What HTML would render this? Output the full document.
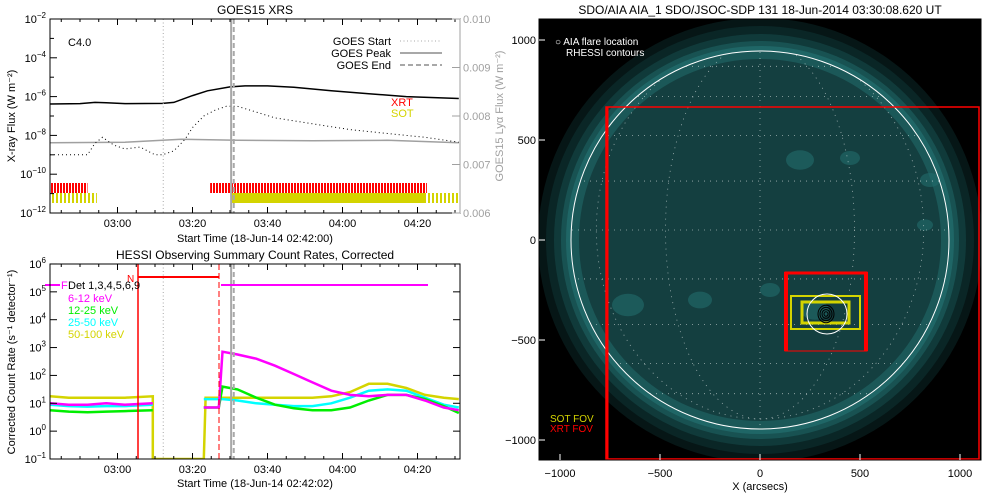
<!DOCTYPE html>
<html><head><meta charset="utf-8"><style>
html,body{margin:0;padding:0;background:#fff;}
svg{display:block;font-family:"Liberation Sans",sans-serif;}
</style></head><body>
<svg id="s" width="1000" height="500" viewBox="0 0 1000 500">
<defs>
<pattern id="redstripe" width="3" height="10" patternUnits="userSpaceOnUse"><rect width="2" height="10" fill="#ff0000"/></pattern>
<pattern id="yelstripe" width="4" height="10" patternUnits="userSpaceOnUse"><rect width="2" height="10" fill="#d4d400"/></pattern>
<clipPath id="sunclip"><circle cx="760" cy="240" r="189"/></clipPath>
<clipPath id="c1"><rect x="50" y="19" width="410" height="194"/></clipPath>
<clipPath id="c2"><rect x="50" y="264" width="410" height="195"/></clipPath>
<clipPath id="imgclip"><rect x="539" y="19" width="442" height="441"/></clipPath>
</defs>
<g id="topPanel"></g>
<g id="botPanel"></g>
<g id="imgPanel"></g>
</svg>
<script>
// ---- GOES data (minutes after 02:42, log10 flux) ----
const goesLongT=[0,8,12,15,20,30,33,38,42,48,52,58,65,75,85,95,109];
const goesLongV=[-6.38,-6.36,-6.3,-6.32,-6.36,-6.35,-6.3,-5.95,-5.7,-5.5,-5.45,-5.45,-5.52,-5.7,-5.85,-6.0,-6.1];
const goesShortT=[0,10,12,14,17,20,24,28,30,33,36,38,41,44,47,50,55,60,70,80,90,100,109];
const goesShortV=[-9.0,-9.0,-8.4,-8.1,-8.5,-8.7,-8.6,-9.0,-9.0,-8.8,-8.2,-7.6,-7.0,-6.7,-6.5,-6.5,-6.8,-7.1,-7.4,-7.7,-7.9,-8.1,-8.35];
const lyaT=[0,20,35,50,70,90,109];
const lyaV=[0.00745,0.00746,0.00752,0.0075,0.00749,0.0075,0.00745];
const goesEvents=[30.2,48.3,49.0];
const xrtSpans=[[0,10],[42.7,100.5]];
const sotStripes=[[0,12.5],[100,109]];
const sotSolid=[[48.5,100]];
const timeTicks=[18,38,58,78,98];
const timeLabels=["03:00","03:20","03:40","04:00","04:20"];
const leftTickExp=[-2,-4,-6,-8,-10,-12];
const rightTicks=[0.010,0.009,0.008,0.007,0.006];
// ---- HESSI data ----
const hT=[0,5,10,15,20,27.4,null,41,41.5,45,46,50,55,60,65,70,75,80,85,90,95,100,105,109];
const h612=[1.0,0.95,0.95,1.0,0.95,1.0,null,0.85,0.85,0.85,2.85,2.75,2.6,2.35,2.05,1.75,1.45,1.3,1.25,1.3,1.3,1.1,0.85,0.75];
const h1225=[0.75,0.7,0.68,0.7,0.72,0.75,null,0.85,0.85,0.85,1.6,1.5,1.2,0.95,0.82,0.75,0.75,0.85,1.1,1.3,1.3,1.15,0.9,0.65];
const h2550=[0.95,0.9,0.88,0.9,0.9,0.95,null,1.15,1.15,1.15,1.15,1.1,1.0,0.95,0.9,0.9,1.0,1.2,1.45,1.5,1.45,1.2,0.95,0.85];
const h50100=[1.25,1.2,1.2,1.2,1.2,1.25,-1,-1,1.2,1.2,1.2,1.2,1.2,1.2,1.2,1.2,1.25,1.4,1.7,1.7,1.55,1.3,1.2,1.15];
const hEvents=[30.2,48.3,49.0];
const hTickExp=[6,5,4,3,2,1,0,-1];

const NS="http://www.w3.org/2000/svg";
function mk(parent,tag,attrs,text){const e=document.createElementNS(NS,tag);for(const k in attrs)e.setAttribute(k,attrs[k]);if(text!==undefined)e.textContent=text;parent.appendChild(e);return e;}
const X=t=>50+t*3.75;
const Y1=v=>213-(v+12)*19.4;
const YR=v=>213-(v-0.006)/0.004*194;
const Y2=v=>459-(v+1)*27.86;
function supLabel(g,x,y,base,exp,anchor,fill){const t=mk(g,'text',{x:x,y:y,'font-size':11,'text-anchor':anchor||'end',fill:fill||'#000'});
 const a=document.createElementNS(NS,'tspan');a.textContent=base;t.appendChild(a);
 const b=document.createElementNS(NS,'tspan');b.setAttribute('dy',-5);b.setAttribute('font-size',8);b.textContent=exp;t.appendChild(b);return t;}
function path(arrT,arrV,fx,fy){let d='',pen=false;arrT.forEach((t,i)=>{if(t===null||arrV[i]===null){pen=false;return;}d+=(pen?'L':'M')+fx(t).toFixed(1)+' '+fy(arrV[i]).toFixed(1);pen=true;});return d;}
const dashes=['1 2.5',null,'5 3'];const widths=[1,2,2];
let e;

// ===== TOP PANEL =====
const topG=document.getElementById('topPanel');
e=mk(topG,'text',{x:255,y:14,'font-size':12,'text-anchor':'middle'},'GOES15 XRS');

const bars=mk(topG,'g',{});

xrtSpans.forEach(s=>{const r=mk(bars,'rect',{x:X(s[0]),y:183,width:X(s[1])-X(s[0]),height:10,fill:'url(#redstripe)'});
 });
sotStripes.forEach(s=>{const r=mk(bars,'rect',{x:X(s[0]),y:193,width:X(s[1])-X(s[0]),height:10,fill:'url(#yelstripe)'});
 });
sotSolid.forEach(s=>{const r=mk(bars,'rect',{x:X(s[0]),y:193,width:X(s[1])-X(s[0]),height:10,fill:'#d4d400'});
 });
const g1=mk(topG,'g',{'clip-path':'url(#c1)'});
e=mk(g1,'path',{d:path(lyaT,lyaV,X,YR),stroke:'#a0a0a0','stroke-width':1.5,fill:'none'});

e=mk(g1,'path',{d:path(goesShortT,goesShortV,X,Y1),stroke:'#000','stroke-width':1,'stroke-dasharray':'1 3',fill:'none'});

e=mk(g1,'path',{d:path(goesLongT,goesLongV,X,Y1),stroke:'#000','stroke-width':1.5,fill:'none'});

goesEvents.forEach((t,i)=>{const l=mk(topG,'line',{x1:X(t),x2:X(t),y1:19,y2:213,stroke:'#a8a8a8','stroke-width':widths[i]});if(dashes[i])l.setAttribute('stroke-dasharray',dashes[i]);
 });
e=mk(topG,'rect',{x:50,y:19,width:410,height:194,fill:'none',stroke:'#000','stroke-width':1});

mk(topG,'line',{x1:460,x2:460,y1:19,y2:213,stroke:'#a0a0a0'});
for(let t=0;t<=105;t+=5){const tt=t+3;const L=(tt-18)%20===0?6:3;mk(topG,'line',{x1:X(tt),x2:X(tt),y1:213,y2:213-L,stroke:'#000'});mk(topG,'line',{x1:X(tt),x2:X(tt),y1:19,y2:19+L,stroke:'#000'});}
timeTicks.forEach((t,i)=>{const l=mk(topG,'text',{x:X(t),y:227,'font-size':11,'text-anchor':'middle'},timeLabels[i]);
 });
for(let ex=-12;ex<=-2;ex++){const L=ex%2===0?7:4;mk(topG,'line',{x1:50,x2:50+L,y1:Y1(ex),y2:Y1(ex),stroke:'#000'});}
leftTickExp.forEach(ex=>{const l=supLabel(topG,46,Y1(ex)+4,'10',String(ex).replace('-','\u2212'));
 });
rightTicks.forEach(v=>{mk(topG,'line',{x1:452,x2:460,y1:YR(v),y2:YR(v),stroke:'#a0a0a0'});
 const l=mk(topG,'text',{x:463,y:YR(v)+4,'font-size':11,fill:'#a0a0a0'},v.toFixed(3));
 });
e=mk(topG,'text',{x:255,y:242,'font-size':11,'text-anchor':'middle'},'Start Time (18-Jun-14 02:42:00)');

e=mk(topG,'text',{x:0,y:0,'font-size':11,'text-anchor':'middle',transform:'translate(15,116) rotate(-90)'},'X-ray Flux (W m⁻²)');

e=mk(topG,'text',{x:0,y:0,'font-size':11,'text-anchor':'middle',fill:'#a0a0a0',transform:'translate(503,116) rotate(-90)'},'GOES15 Lyα Flux (W m⁻²)');

e=mk(topG,'text',{x:68,y:46,'font-size':11},'C4.0');

const leg=[['GOES Start','1 2.5',1],['GOES Peak',null,2],['GOES End','5 3',2]];
leg.forEach((L,i)=>{const y=41+i*12;const t=mk(topG,'text',{x:391,y:y+4,'font-size':11,'text-anchor':'end'},L[0]);
 
 const l=mk(topG,'line',{x1:400,x2:442,y1:y,y2:y,stroke:'#a8a8a8','stroke-width':L[2]});if(L[1])l.setAttribute('stroke-dasharray',L[1]);});
e=mk(topG,'text',{x:391,y:106,'font-size':11,fill:'#ff0000'},'XRT');
e=mk(topG,'text',{x:391,y:117,'font-size':11,fill:'#d4d400'},'SOT');

// ===== BOTTOM PANEL =====
const botG=document.getElementById('botPanel');
e=mk(botG,'text',{x:255,y:259,'font-size':12,'text-anchor':'middle'},'HESSI Observing Summary Count Rates, Corrected');

const g2=mk(botG,'g',{'clip-path':'url(#c2)'});
const series=[[h50100,'#d4d400','50-100-kev-line'],[h2550,'#00ffff','25-50-kev-line'],[h1225,'#00ee00','12-25-kev-line'],[h612,'#ff00ff','6-12-kev-line']];
series.forEach(s=>{let d='',pen=false;
 hT.forEach((t,i)=>{const v=s[0][i];
  if(v===null){pen=false;return;}
  const tt=(t===null)?hT[i-1]:t;
  d+=(pen?'L':'M')+X(tt).toFixed(1)+' '+Y2(v).toFixed(1);pen=true;});
 const p=mk(g2,'path',{d:d,stroke:s[1],'stroke-width':2.5,fill:'none'});
 });
hEvents.forEach((t,i)=>{const l=mk(botG,'line',{x1:X(t),x2:X(t),y1:264,y2:459,stroke:'#a8a8a8','stroke-width':widths[i]});if(dashes[i])l.setAttribute('stroke-dasharray',dashes[i]);
 });
e=mk(botG,'line',{x1:138,x2:138,y1:264,y2:459,stroke:'#ff0000','stroke-width':1.5});
e=mk(botG,'line',{x1:219,x2:219,y1:264,y2:459,stroke:'#ff0000','stroke-width':1,'stroke-dasharray':'6 3'});
e=mk(botG,'line',{x1:138,x2:219,y1:277,y2:277,stroke:'#ff0000','stroke-width':2});
e=mk(botG,'text',{x:127,y:282,'font-size':10,fill:'#ff0000'},'N');
e=mk(botG,'line',{x1:45,x2:60,y1:285,y2:285,stroke:'#ff00ff','stroke-width':2});
e=mk(botG,'line',{x1:221,x2:428,y1:285,y2:285,stroke:'#ff00ff','stroke-width':2});
e=mk(botG,'text',{x:61,y:289,'font-size':11,fill:'#ff00ff'},'F');
e=mk(botG,'text',{x:68,y:289,'font-size':11},'Det 1,3,4,5,6,9');
[['6-12 keV','#ff00ff'],['12-25 keV','#00ee00'],['25-50 keV','#00ffff'],['50-100 keV','#d4d400']].forEach((L,i)=>{
 const t=mk(botG,'text',{x:68,y:302+i*12,'font-size':11,fill:L[1]},L[0]);});
e=mk(botG,'rect',{x:50,y:264,width:410,height:195,fill:'none',stroke:'#000'});
for(let t=0;t<=105;t+=5){const tt=t+3;const L=(tt-18)%20===0?6:3;mk(botG,'line',{x1:X(tt),x2:X(tt),y1:459,y2:459-L,stroke:'#000'});mk(botG,'line',{x1:X(tt),x2:X(tt),y1:264,y2:264+L,stroke:'#000'});}
timeTicks.forEach((t,i)=>{const l=mk(botG,'text',{x:X(t),y:473,'font-size':11,'text-anchor':'middle'},timeLabels[i]);
 });
hTickExp.forEach(ex=>{mk(botG,'line',{x1:50,x2:57,y1:Y2(ex),y2:Y2(ex),stroke:'#000'});mk(botG,'line',{x1:453,x2:460,y1:Y2(ex),y2:Y2(ex),stroke:'#000'});
 const l=supLabel(botG,46,Y2(ex)+4,'10',String(ex).replace('-','\u2212'));});
e=mk(botG,'text',{x:255,y:487,'font-size':11,'text-anchor':'middle'},'Start Time (18-Jun-14 02:42:02)');

e=mk(botG,'text',{x:0,y:0,'font-size':11,'text-anchor':'middle',transform:'translate(15,362) rotate(-90)'},'Corrected Count Rate (s⁻¹ detector⁻¹)');


// ===== IMAGE PANEL =====
const imgG=document.getElementById('imgPanel');
const AX=a=>760+a*0.2, AY=a=>240-a*0.2;
e=mk(imgG,'text',{x:760,y:14,'font-size':12,'text-anchor':'middle'},'SDO/AIA AIA_1 SDO/JSOC-SDP 131 18-Jun-2014 03:30:08.620 UT');

e=mk(imgG,'rect',{x:539,y:19,width:442,height:441,fill:'#000'});
const ic=mk(imgG,'g',{'clip-path':'url(#imgclip)'});
[[222,'#061616'],[214,'#0a2626'],[206,'#103a3a'],[199,'#185252'],[194,'#1f6666']].forEach(c=>mk(ic,'circle',{cx:760,cy:240,r:c[0],fill:c[1]}));
e=mk(ic,'circle',{cx:760,cy:240,r:189,fill:'#143f40'});
mk(ic,'circle',{cx:760,cy:240,r:185,fill:'none',stroke:'#1b5858','stroke-width':8});
const brights=[[800,160,14],[850,158,10],[930,180,10],[628,305,16],[925,225,8],[815,310,14],[700,300,12],[770,290,10]];
brights.forEach(b=>mk(ic,'ellipse',{cx:b[0],cy:b[1],rx:b[2],ry:b[2]*0.7,fill:'#216c6c',opacity:0.6}));
const grid=mk(ic,'g',{'clip-path':'url(#sunclip)',stroke:'#fff','stroke-width':0.8,'stroke-dasharray':'1 5',fill:'none',opacity:0.6});

[-60,-45,-30,-15,0,15,30,45,60].forEach(la=>{const y=240-189*Math.sin(la*Math.PI/180)-10;mk(grid,'line',{x1:560,x2:960,y1:y,y2:y});});
[30,60].forEach(lo=>{mk(grid,'ellipse',{cx:760,cy:230,rx:189*Math.sin(lo*Math.PI/180),ry:189});});
mk(grid,'line',{x1:760,x2:760,y1:40,y2:440});
e=mk(ic,'circle',{cx:760,cy:240,r:189,fill:'none',stroke:'#fff','stroke-width':1});
e=mk(ic,'rect',{x:AX(-770),y:AY(665),width:AX(1100)-AX(-770)-1,height:AY(-1095)-AY(665),fill:'none',stroke:'#ff0000','stroke-width':1.5});

mk(ic,'line',{x1:AX(-770)+1,x2:AX(-770)+1,y1:AY(665),y2:AY(-1095),stroke:'#ff0000','stroke-width':3});
e=mk(ic,'rect',{x:AX(125),y:AY(-160),width:AX(535)-AX(125),height:AY(-555)-AY(-160),fill:'none',stroke:'#ff0000','stroke-width':1});

mk(ic,'line',{x1:AX(125)+1,x2:AX(125)+1,y1:AY(-160),y2:AY(-555),stroke:'#ff0000','stroke-width':4});
mk(ic,'line',{x1:AX(535)-1,x2:AX(535)-1,y1:AY(-160),y2:AY(-555),stroke:'#ff0000','stroke-width':4});
mk(ic,'line',{x1:AX(125),x2:AX(535),y1:AY(-160)+1,y2:AY(-160)+1,stroke:'#ff0000','stroke-width':3});
e=mk(ic,'rect',{x:AX(155),y:AY(-280),width:AX(500)-AX(155),height:AY(-445)-AY(-280),fill:'none',stroke:'#d4d400','stroke-width':2});

e=mk(ic,'rect',{x:AX(210),y:AY(-310),width:AX(445)-AX(210),height:AY(-415)-AY(-310),fill:'none',stroke:'#d4d400','stroke-width':3});

e=mk(ic,'circle',{cx:AX(335),cy:AY(-370),r:20,fill:'none',stroke:'#fff','stroke-width':1});

const cont=mk(ic,'g',{fill:'none',stroke:'#000','stroke-width':1});

[8,6,4,2].forEach(r=>mk(cont,'ellipse',{cx:AX(330),cy:AY(-370),rx:r,ry:r*1.1}));
mk(imgG,'rect',{x:539,y:19,width:442,height:441,fill:'none',stroke:'#000'});
e=mk(imgG,'text',{x:555,y:45,'font-size':10,fill:'#fff'},'○ AIA flare location');
e=mk(imgG,'text',{x:566,y:56,'font-size':10,fill:'#fff'},'RHESSI contours');
e=mk(imgG,'text',{x:550,y:422,'font-size':10,fill:'#d4d400'},'SOT FOV');
e=mk(imgG,'text',{x:550,y:432,'font-size':10,fill:'#ff0000'},'XRT FOV');
[-1000,-500,0,500,1000].forEach(a=>{
 const l=mk(imgG,'text',{x:AX(a),y:477,'font-size':11,'text-anchor':'middle'},String(a).replace('-','\u2212'));
 const m=mk(imgG,'text',{x:536,y:AY(a)+4,'font-size':11,'text-anchor':'end'},String(a).replace('-','\u2212'));
 mk(imgG,'line',{x1:AX(a),x2:AX(a),y1:460,y2:454,stroke:'#fff'});mk(imgG,'line',{x1:539,x2:545,y1:AY(a),y2:AY(a),stroke:'#fff'});});
e=mk(imgG,'text',{x:760,y:490,'font-size':11,'text-anchor':'middle'},'X (arcsecs)');
</script>
</body></html>
